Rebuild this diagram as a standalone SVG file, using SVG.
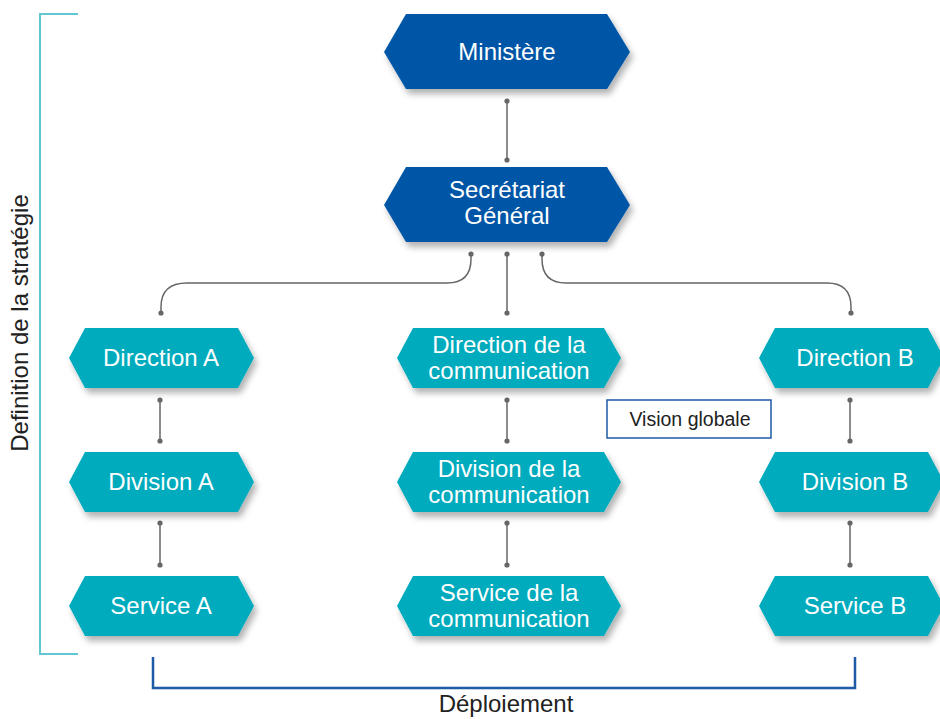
<svg xmlns="http://www.w3.org/2000/svg" width="940" height="719" viewBox="0 0 940 719">
<defs>
<filter id="sh" x="-10%" y="-20%" width="130%" height="160%">
<feDropShadow dx="3" dy="5" stdDeviation="3" flood-color="#000" flood-opacity="0.3"/>
</filter>
<marker id="dot" viewBox="0 0 6 6" refX="3" refY="3" markerWidth="6" markerHeight="6" markerUnits="userSpaceOnUse">
<circle cx="3" cy="3" r="2.6" fill="#666"/>
</marker>
</defs>
<style>
.dark{fill:#0057a6;filter:url(#sh)}
.teal{fill:#00abbd;filter:url(#sh)}
.lbl{font-family:"Liberation Sans",Arial,sans-serif;font-size:24px;fill:#fff;text-anchor:middle}
.out{font-family:"Liberation Sans",Arial,sans-serif;font-size:24px;fill:#222;text-anchor:middle}
.con{fill:none;stroke:#666;stroke-width:1.5;marker-start:url(#dot);marker-end:url(#dot)}
</style>
<rect width="940" height="719" fill="#fff"/>

<g id="connectors">
<path class="con" d="M507,101 V160"/>
<path class="con" d="M471,254 V259 Q471,283 447,283 H187 Q161,283 161,307 V313"/>
<path class="con" d="M507,254 V313"/>
<path class="con" d="M542,254 V259 Q542,283 566,283 H827 Q851,283 851,307 V313"/>
<path class="con" d="M160,400 V441"/>
<path class="con" d="M507,400 V441"/>
<path class="con" d="M850,400 V441"/>
<path class="con" d="M160,523 V565"/>
<path class="con" d="M507,523 V565"/>
<path class="con" d="M850,523 V565"/>
</g>

<g id="ministere">
<polygon class="dark" points="384,52 406,14 607,14 630,52 607,89 406,89"/>
<text class="lbl" x="507" y="60">Ministère</text>
</g>
<g id="secretariat">
<polygon class="dark" points="384,205 406,167 607,167 630,205 607,242 406,242"/>
<text class="lbl" x="507" y="198">Secrétariat</text>
<text class="lbl" x="507" y="224">Général</text>
</g>

<g id="direction-a">
<polygon class="teal" points="69,358 85,328 238,328 254,358 238,388 85,388"/>
<text class="lbl" x="161" y="366">Direction A</text>
</g>
<g id="direction-comm">
<polygon class="teal" points="397,358 413,328 604,328 621,358 604,388 413,388"/>
<text class="lbl" x="509" y="353">Direction de la</text>
<text class="lbl" x="509" y="379">communication</text>
</g>
<g id="direction-b">
<polygon class="teal" points="759,358 775,328 928,328 944,358 928,388 775,388"/>
<text class="lbl" x="855" y="366">Direction B</text>
</g>

<g id="division-a">
<polygon class="teal" points="69,482 85,452 238,452 254,482 238,512 85,512"/>
<text class="lbl" x="161" y="490">Division A</text>
</g>
<g id="division-comm">
<polygon class="teal" points="397,482 413,452 604,452 621,482 604,512 413,512"/>
<text class="lbl" x="509" y="477">Division de la</text>
<text class="lbl" x="509" y="503">communication</text>
</g>
<g id="division-b">
<polygon class="teal" points="759,482 775,452 928,452 944,482 928,512 775,512"/>
<text class="lbl" x="855" y="490">Division B</text>
</g>

<g id="service-a">
<polygon class="teal" points="69,606 85,576 238,576 254,606 238,636 85,636"/>
<text class="lbl" x="161" y="614">Service A</text>
</g>
<g id="service-comm">
<polygon class="teal" points="397,606 413,576 604,576 621,606 604,636 413,636"/>
<text class="lbl" x="509" y="601">Service de la</text>
<text class="lbl" x="509" y="627">communication</text>
</g>
<g id="service-b">
<polygon class="teal" points="759,606 775,576 928,576 944,606 928,636 775,636"/>
<text class="lbl" x="855" y="614">Service B</text>
</g>

<g id="vision-globale">
<rect x="607" y="400" width="164" height="38" fill="#fff" stroke="#1d5ba6" stroke-width="1.5"/>
<text x="690" y="426" font-family="Liberation Sans, Arial, sans-serif" font-size="19.5" fill="#222" text-anchor="middle">Vision globale</text>
</g>

<g id="strategie">
<path d="M78,14 H40 V654 H78" fill="none" stroke="#62c6d3" stroke-width="2"/>
<text class="out" transform="translate(28,323) rotate(-90)">Definition de la stratégie</text>
</g>

<g id="deploiement">
<path d="M153,657 V688 H855 V657" fill="none" stroke="#1d5ba6" stroke-width="2.5"/>
<text class="out" x="506" y="712">Déploiement</text>
</g>
</svg>
